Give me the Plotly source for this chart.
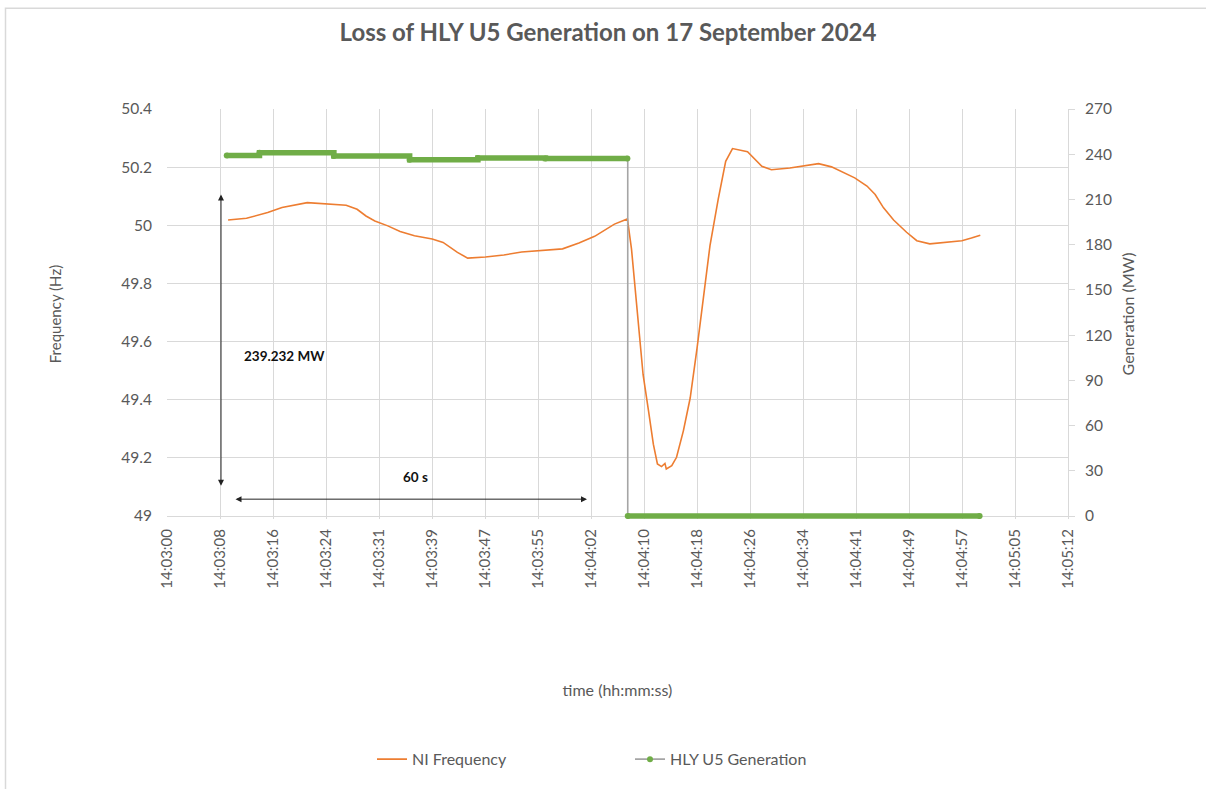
import plotly.graph_objects as go

# ---------------- data ----------------
# time in seconds after 14:03:00
freq_t = [9.4, 12.1, 15.2, 17.3, 21.0, 23.6, 26.7, 28.3, 29.6, 30.9, 32.8, 34.6, 36.7, 39.3,
          40.9, 43.0, 44.5, 47.1, 49.8, 52.4, 55.5, 58.4, 60.8, 63.1, 66.0, 67.9, 68.5, 69.0,
          69.5, 70.2, 71.0, 71.7, 72.3, 72.9, 73.4, 73.6, 74.4, 75.1, 76.1, 77.1, 78.1, 79.0,
          80.0, 81.2, 82.3, 83.3, 85.5, 87.6, 89.0, 91.7, 94.2, 95.9, 97.8, 99.5, 101.2, 103.0,
          104.2, 105.4, 106.9, 108.8, 110.3, 112.2, 114.7, 116.9, 118.3, 119.6]
freq_hz = [50.018, 50.024, 50.044, 50.061, 50.078, 50.075, 50.069, 50.055, 50.032, 50.015,
           49.998, 49.979, 49.964, 49.953, 49.941, 49.907, 49.887, 49.891, 49.898, 49.908,
           49.914, 49.919, 49.939, 49.962, 50.004, 50.022, 49.919, 49.793, 49.668, 49.486,
           49.361, 49.247, 49.179, 49.170, 49.181, 49.162, 49.173, 49.202, 49.293, 49.406,
           49.577, 49.748, 49.930, 50.089, 50.220, 50.264, 50.253, 50.203, 50.191, 50.197,
           50.205, 50.212, 50.201, 50.183, 50.163, 50.135, 50.106, 50.061, 50.018, 49.976,
           49.947, 49.936, 49.941, 49.947, 49.956, 49.966]

gen_t = [9.2, 14.0, 24.9, 36.0, 46.0, 55.9, 67.9, 67.95, 119.5]
gen_mw = [239.2, 241.0, 238.8, 236.4, 237.5, 237.1, 237.1, 0.0, 0.0]

x_tick_labels = ["14:03:00", "14:03:08", "14:03:16", "14:03:24", "14:03:31", "14:03:39",
                 "14:03:47", "14:03:55", "14:04:02", "14:04:10", "14:04:18", "14:04:26",
                 "14:04:34", "14:04:41", "14:04:49", "14:04:57", "14:05:05", "14:05:12"]
x_start = 0.45
x_span = 132.0

# ---------------- styling ----------------
FONT = "Lato"
GREY_TXT = "#595959"
GRID = "#d9d9d9"
ORANGE = "#ed7d31"
GREEN = "#70ad47"
LINE_GREY = "#a5a5a5"

W, H = 1206, 789
PL, PR, PT, PB = 167, 1068, 109, 522   # plot area in pixels (bottom padded 3px)
PW, PH = PR - PL, PB - PT
pad_hz = 3 * 1.4 / 410
pad_mw = 3 * 270 / 410

n = len(x_tick_labels) - 1
tickvals = [x_start + k * x_span / n for k in range(n + 1)]

# thick green segments: split where generation is lost
pre = [(t, v) for t, v in zip(gen_t, gen_mw) if v > 0]
post = [(t, v) for t, v in zip(gen_t, gen_mw) if v == 0]
thick_x = [p[0] for p in pre] + [None] + [p[0] for p in post]
thick_y = [p[1] for p in pre] + [None] + [p[1] for p in post]

fig = go.Figure()

fig.add_trace(go.Scatter(
    x=freq_t, y=freq_hz, name="NI Frequency", mode="lines",
    line=dict(color=ORANGE, width=1.6), yaxis="y"))

fig.add_trace(go.Scatter(
    x=gen_t, y=gen_mw, name="HLY U5 Generation", mode="lines+markers",
    line=dict(color=LINE_GREY, width=1.6, shape="hv"),
    marker=dict(color=GREEN, size=6), yaxis="y2"))

fig.add_trace(go.Scatter(
    x=thick_x, y=thick_y, mode="lines", showlegend=False, hoverinfo="skip",
    line=dict(color=GREEN, width=5.5, shape="hv"), connectgaps=False, yaxis="y2"))

fig.update_layout(
    width=W, height=H,
    margin=dict(l=PL, r=W - PR, t=PT, b=H - PB),
    paper_bgcolor="white", plot_bgcolor="white",
    font=dict(family=FONT, color=GREY_TXT, size=15),
    title=dict(text="<b>Loss of HLY U5 Generation on 17 September 2024</b>",
               x=608 / W, xanchor="center", y=1 - 33 / H, yanchor="middle",
               font=dict(family=FONT, size=24, color=GREY_TXT)),
    xaxis=dict(range=[x_start, x_start + x_span], tickvals=tickvals, ticktext=x_tick_labels,
               tickangle=-90, showgrid=True, gridcolor=GRID, gridwidth=1,
               showline=False, zeroline=False, ticks="", ticklabelstandoff=6,
               tickfont=dict(size=15, color=GREY_TXT),
               title=dict(text="time (hh:mm:ss)", standoff=97,
                          font=dict(size=16, color=GREY_TXT))),
    yaxis=dict(range=[49 - pad_hz, 50.4], dtick=0.2, tick0=49, showgrid=True, gridcolor=GRID,
               gridwidth=1, zeroline=False, showline=False, ticks="", ticklabelstandoff=14,
               tickfont=dict(size=15.5, color=GREY_TXT),
               title=dict(text="Frequency (Hz)", standoff=56,
                          font=dict(size=15, color=GREY_TXT))),
    yaxis2=dict(range=[-pad_mw, 270], dtick=30, tick0=0, overlaying="y", side="right",
                showgrid=False, zeroline=False, showline=True, linecolor=GRID,
                ticks="outside", ticklen=6, tickcolor=GRID, ticklabelstandoff=7,
                tickfont=dict(size=15.5, color=GREY_TXT),
                title=dict(text="Generation (MW)", standoff=11,
                           font=dict(size=16, color=GREY_TXT))),
    legend=dict(orientation="h", x=(372 - PL) / PW, xanchor="left",
                y=(PB - 764) / PH, yanchor="middle",
                entrywidth=213, entrywidthmode="pixels",
                font=dict(size=16, color=GREY_TXT), bgcolor="rgba(0,0,0,0)"),
    showlegend=True,
)

# chart-area border (Excel style)
fig.add_shape(type="rect", xref="paper", yref="paper",
              x0=(5.5 - PL) / PW, x1=(1230 - PL) / PW,
              y0=(PB - 820) / PH, y1=(PB - 7.5) / PH,
              line=dict(color=GRID, width=1.5), fillcolor="rgba(0,0,0,0)", layer="below")

# annotations: arrows and labels
fig.add_annotation(x=8.36, y=50.106, ax=8.36, ay=49.099, xref="x", yref="y",
                   axref="x", ayref="y", text="", showarrow=True,
                   arrowside="end+start", arrowhead=2, arrowsize=1.2, arrowwidth=1,
                   arrowcolor="#222222")
fig.add_annotation(x=61.98, y=49.058, ax=10.27, ay=49.058, xref="x", yref="y",
                   axref="x", ayref="y", text="", showarrow=True,
                   arrowside="end+start", arrowhead=2, arrowsize=1.2, arrowwidth=1,
                   arrowcolor="#222222")
fig.add_annotation(x=17.7, y=49.55, xref="x", yref="y", text="<b>239.232 MW</b>",
                   showarrow=False, font=dict(family=FONT, size=13.5, color="#111111"))
fig.add_annotation(x=36.8, y=49.133, xref="x", yref="y", text="<b>60 s</b>",
                   showarrow=False, font=dict(family=FONT, size=13.5, color="#111111"))

fig.write_html("out.html", config={"displayModeBar": False},
               post_script="document.body.style.margin='0px';document.body.style.overflow='hidden';")
